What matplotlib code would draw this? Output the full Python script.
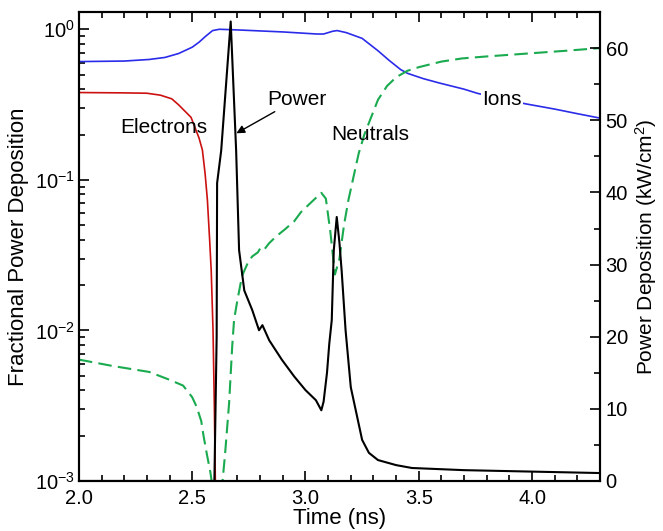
import matplotlib
matplotlib.use("Agg")
import matplotlib.pyplot as plt
from matplotlib.ticker import MultipleLocator, LogLocator, NullFormatter

plt.rcParams['font.family'] = ['Liberation Sans', 'DejaVu Sans']
plt.rcParams['mathtext.fontset'] = 'custom'
plt.rcParams['mathtext.rm'] = 'Liberation Sans'
plt.rcParams['mathtext.it'] = 'Liberation Sans:italic'

# ---- data ----
time_ions = [2.0, 2.2, 2.31, 2.38, 2.44, 2.50, 2.53, 2.56, 2.59, 2.62, 2.7, 2.9, 3.05, 3.08,
             3.12, 3.14, 3.18, 3.25, 3.32, 3.37, 3.42, 3.45, 3.52, 3.59, 3.7, 3.76, 3.85,
             3.97, 4.1, 4.2, 4.3]
ions = [0.61, 0.615, 0.63, 0.65, 0.69, 0.76, 0.82, 0.9, 0.98, 1.0, 0.99, 0.96, 0.93, 0.93,
        0.97, 0.98, 0.95, 0.87, 0.72, 0.62, 0.54, 0.51, 0.47, 0.44, 0.40, 0.375, 0.35,
        0.32, 0.295, 0.275, 0.257]

time_electrons = [2.0, 2.2, 2.30, 2.36, 2.41, 2.44, 2.495, 2.53, 2.545, 2.557, 2.567, 2.577,
                  2.584, 2.592, 2.598, 2.603]
electrons = [0.38, 0.378, 0.376, 0.365, 0.345, 0.315, 0.26, 0.19, 0.158, 0.11, 0.074, 0.04,
             0.025, 0.01, 0.003, 0.0008]

time_neutrals = [2.0, 2.15, 2.31, 2.40, 2.46, 2.50, 2.52, 2.54, 2.55, 2.565, 2.58, 2.595,
                 2.612, 2.628, 2.645, 2.663, 2.677, 2.685, 2.70, 2.72, 2.745, 2.765, 2.79,
                 2.80, 2.815, 2.84, 2.87, 2.91, 2.95, 2.98, 3.03, 3.07, 3.09, 3.11, 3.13,
                 3.15, 3.17, 3.19, 3.235, 3.26, 3.32, 3.36, 3.40, 3.45, 3.5, 3.6, 3.69,
                 3.8, 3.98, 4.15, 4.3]
neutrals = [0.0064, 0.0058, 0.0053, 0.0047, 0.0043, 0.0036, 0.0031, 0.0025, 0.0020, 0.0015,
            0.00115, 0.0008, 0.00001, 0.0008, 0.0015, 0.0033, 0.008, 0.0118, 0.016, 0.023,
            0.028, 0.031, 0.033, 0.035, 0.034, 0.038, 0.042, 0.047, 0.053, 0.061, 0.072,
            0.082, 0.075, 0.045, 0.0235, 0.03, 0.05, 0.074, 0.15, 0.20, 0.34, 0.42, 0.48,
            0.53, 0.56, 0.61, 0.64, 0.66, 0.69, 0.72, 0.75]

time_power = [2.0, 2.59, 2.598, 2.608, 2.61, 2.628, 2.67, 2.694, 2.707, 2.73, 2.765, 2.795,
              2.81, 2.84, 2.896, 2.95, 3.0, 3.046, 3.07, 3.08, 3.095, 3.105, 3.116, 3.125,
              3.138, 3.15, 3.16, 3.177, 3.20, 3.25, 3.28, 3.32, 3.4, 3.47, 3.7, 4.0, 4.3]
power = [0, 0, 0, 20, 41.3, 45.8, 63.7, 45.8, 32, 26.4, 23.7, 20.9, 21.6, 19.5, 16.8, 14.5,
         12.6, 11.2, 9.8, 11, 15, 19, 22.3, 32, 36.6, 33, 29, 20.9, 13, 5.7, 3.9, 2.9, 2.2,
         1.8, 1.5, 1.3, 1.1]

# ---- figure ----
fig = plt.figure(figsize=(6.63, 5.31), dpi=100)
ax = fig.add_axes([0.119, 0.0942, 0.786, 0.883])
ax2 = ax.twinx()

ax.plot(time_ions, ions, color='#2b2bea', lw=1.2)
ax.plot(time_electrons, electrons, color='#cc1111', lw=1.2)
ln, = ax.plot(time_neutrals, neutrals, color='#1aaa4f', lw=1.5)
ln.set_dashes((6.5, 3))
ax2.plot(time_power, power, color='black', lw=1.5)

ax.set_yscale('log')
ax.set_xlim(2.0, 4.3)
ax.set_ylim(1e-3, 1.3)
ax2.set_ylim(0, 65)

ax.xaxis.set_major_locator(MultipleLocator(0.5))
ax.xaxis.set_minor_locator(MultipleLocator(0.1))
ax.xaxis.set_major_formatter(matplotlib.ticker.FormatStrFormatter('%.1f'))
ax.yaxis.set_major_locator(LogLocator(base=10, numticks=10))
ax.yaxis.set_minor_locator(LogLocator(base=10, subs=range(2, 10), numticks=20))
ax.yaxis.set_minor_formatter(NullFormatter())
ax2.yaxis.set_major_locator(MultipleLocator(10))
ax2.yaxis.set_minor_locator(MultipleLocator(5))

for a in (ax, ax2):
    a.tick_params(which='both', direction='in', labelsize=14.5, width=1.2)
    a.tick_params(which='major', length=7.5)
    a.tick_params(which='minor', length=4.5)
    for s in a.spines.values():
        s.set_linewidth(1.5)
ax.tick_params(top=True, which='both')
ax.tick_params(axis='y', right=False, pad=3)
ax.tick_params(axis='x', pad=6)
ax2.tick_params(axis='y', pad=4)

ax.set_xlabel('Time (ns)', fontsize=16, labelpad=0)
ax.set_ylabel('Fractional Power Deposition', fontsize=16, labelpad=4)
ax2.set_ylabel('Power Deposition (kW/cm$^2$)', fontsize=15, labelpad=4)

ax.text(2.373, 0.224, 'Electrons', fontsize=15, ha='center', va='center')
ax.text(3.287, 0.20, 'Neutrals', fontsize=15, ha='center', va='center')
ax.text(3.867, 0.344, 'Ions', fontsize=15, ha='center', va='center',
        bbox=dict(facecolor='white', edgecolor='none', pad=1))
ax2.annotate('Power', xy=(2.695, 48.2), xytext=(2.83, 52.9), fontsize=15,
             ha='left', va='center',
             arrowprops=dict(arrowstyle='-|>', color='black', lw=1.0,
                             shrinkA=0, shrinkB=0, mutation_scale=12))

fig.savefig('out.png', dpi=100)
